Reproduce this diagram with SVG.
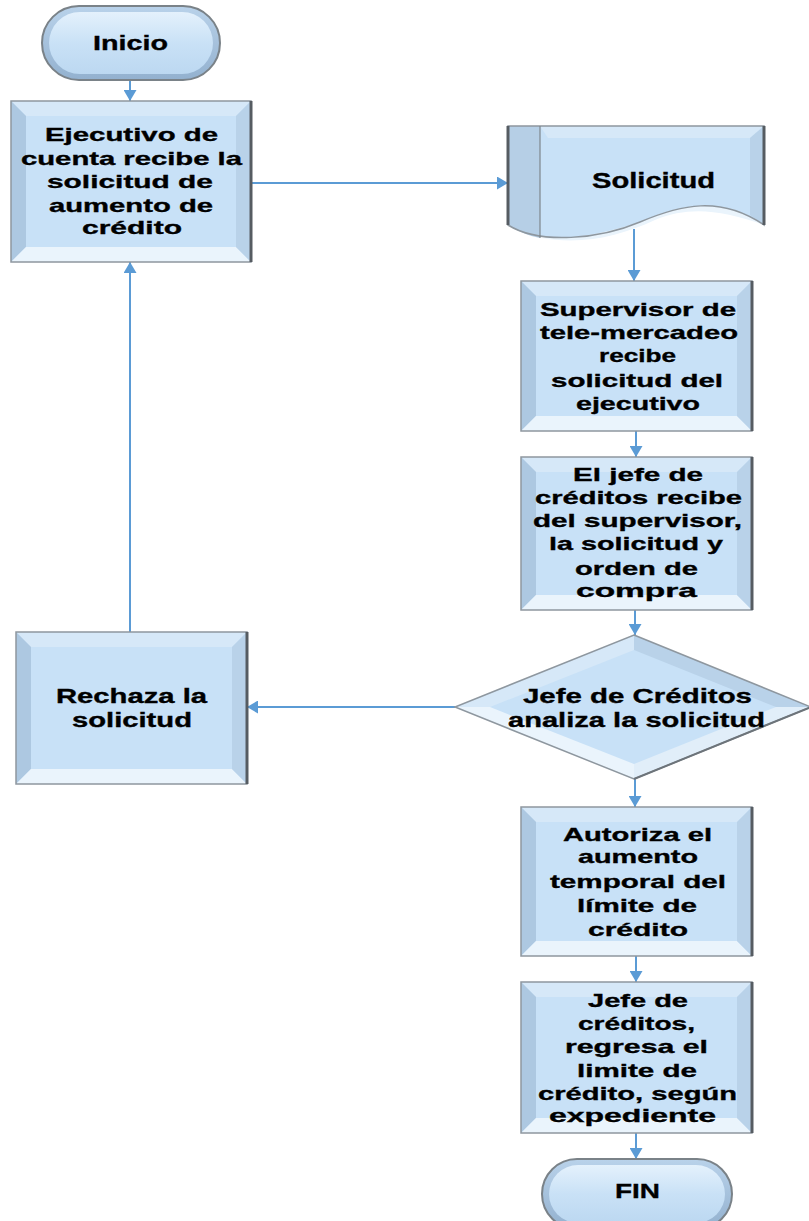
<svg xmlns="http://www.w3.org/2000/svg" width="809" height="1221" viewBox="0 0 809 1221">
  <style>
    .t { font-family: "Liberation Sans", Arial, sans-serif; font-weight: bold; font-size: 19px; fill: #000; stroke: #000; stroke-width: 0.35; }
    .big { font-size: 21px; }
    .face { fill: #c8e1f7; }
    .bt { fill: #d6e8f8; }
    .bl { fill: #adc8e1; }
    .bb { fill: #eaf4fc; }
    .br { fill: #b9d2e9; }
    .edge { fill: none; stroke: #8e979f; stroke-width: 1.5; }
    .dark { stroke: #565c62; stroke-width: 3; }
    .conn { fill: none; stroke: #5b9bd5; stroke-width: 2; marker-end: url(#arrow); }
  </style>
  <defs>
    <marker id="arrow" viewBox="0 0 11 13" markerWidth="11" markerHeight="13" refX="11" refY="6.5" orient="auto" markerUnits="userSpaceOnUse">
      <path d="M0,0 L11,6.5 L0,13 z" fill="#5b9bd5"/>
    </marker>
    <linearGradient id="pillRing" x1="0" y1="0" x2="0" y2="1">
      <stop offset="0" stop-color="#b9d2ea"/>
      <stop offset="1" stop-color="#93b1cf"/>
    </linearGradient>
    <linearGradient id="pillFace" x1="0" y1="0" x2="0" y2="1">
      <stop offset="0" stop-color="#e4f1fc"/>
      <stop offset="0.5" stop-color="#c9e1f6"/>
      <stop offset="1" stop-color="#bcd8f1"/>
    </linearGradient>
  </defs>

  <!-- connectors -->
  <g id="connectors">
    <line class="conn" x1="130" y1="80" x2="130" y2="101"/>
    <line class="conn" x1="252" y1="183" x2="508" y2="183"/>
    <line class="conn" x1="634" y1="229" x2="634" y2="281"/>
    <line class="conn" x1="636" y1="431" x2="636" y2="457"/>
    <line class="conn" x1="635" y1="610" x2="635" y2="635"/>
    <line class="conn" x1="455" y1="707" x2="247" y2="707"/>
    <line class="conn" x1="130" y1="632" x2="130" y2="262"/>
    <line class="conn" x1="635" y1="779" x2="635" y2="807"/>
    <line class="conn" x1="636" y1="956" x2="636" y2="982"/>
    <line class="conn" x1="636" y1="1133" x2="636" y2="1159"/>
  </g>

  <!-- start terminator -->
  <g id="inicio">
    <rect x="42" y="6" width="178" height="74" rx="37" fill="url(#pillRing)" stroke="#7a8288" stroke-width="2"/>
    <rect x="49" y="12" width="164" height="62" rx="31" fill="url(#pillFace)"/>
    <text class="t big" x="93" y="50" textLength="75" lengthAdjust="spacingAndGlyphs">Inicio</text>
  </g>

  <!-- process: ejecutivo -->
  <g id="ejecutivo">
    <rect class="face" x="11" y="101" width="240" height="161"/>
    <polygon class="bt" points="11,101 251,101 236,116 26,116"/>
    <polygon class="bl" points="11,101 26,116 26,247 11,262"/>
    <polygon class="bb" points="11,262 26,247 236,247 251,262"/>
    <polygon class="br" points="251,101 251,262 236,247 236,116"/>
    <rect class="edge" x="11" y="101" width="240" height="161"/>
    <line class="dark" x1="251" y1="101" x2="251" y2="262"/>
    <text class="t" x="45" y="141" textLength="173" lengthAdjust="spacingAndGlyphs">Ejecutivo de</text>
    <text class="t" x="21" y="165" textLength="221" lengthAdjust="spacingAndGlyphs">cuenta recibe la</text>
    <text class="t" x="47" y="188" textLength="166" lengthAdjust="spacingAndGlyphs">solicitud de</text>
    <text class="t" x="49" y="212" textLength="164" lengthAdjust="spacingAndGlyphs">aumento de</text>
    <text class="t" x="82" y="234" textLength="100" lengthAdjust="spacingAndGlyphs">crédito</text>
  </g>

  <!-- document: solicitud -->
  <g id="solicitud">
    <path d="M508,126 L764,126 L764,225 C720,195 680,205 640,222 S540,245 508,225 Z" fill="#c8e1f7"/>
    <path d="M508,126 L540,126 L540,238 C528,236 518,231 508,225 Z" fill="#b6cfe6"/>
    <path d="M540,126 L764,126 L750,138 L548,138 Z" fill="#d6e8f8"/>
    <path d="M764,126 L764,225 L750,215 L750,138 Z" fill="#b9d2e9"/>
    <path d="M540,238 C575,240 610,232 640,222 C680,205 720,195 764,225 C720,210 690,206 655,220 C620,236 585,245 540,238 Z" fill="#eaf4fc"/>
    <path d="M508,126 L764,126 L764,225 C720,195 680,205 640,222 S540,245 508,225 Z" fill="none" stroke="#8e979f" stroke-width="1.5"/>
    <line x1="540" y1="126" x2="540" y2="238" stroke="#7d858c" stroke-width="1.2"/>
    <line class="dark" x1="508" y1="126" x2="508" y2="225"/>
    <line class="dark" x1="764" y1="126" x2="764" y2="225"/>
    <text class="t" x="592" y="188" textLength="123" lengthAdjust="spacingAndGlyphs" style="font-size:22px">Solicitud</text>
  </g>

  <!-- process: supervisor -->
  <g id="supervisor">
    <rect class="face" x="521" y="281" width="231" height="150"/>
    <polygon class="bt" points="521,281 752,281 737,296 536,296"/>
    <polygon class="bl" points="521,281 536,296 536,416 521,431"/>
    <polygon class="bb" points="521,431 536,416 737,416 752,431"/>
    <polygon class="br" points="752,281 752,431 737,416 737,296"/>
    <rect class="edge" x="521" y="281" width="231" height="150"/>
    <line class="dark" x1="752" y1="281" x2="752" y2="431"/>
    <text class="t" x="540" y="316" textLength="196" lengthAdjust="spacingAndGlyphs">Supervisor de</text>
    <text class="t" x="540" y="339" textLength="198" lengthAdjust="spacingAndGlyphs">tele-mercadeo</text>
    <text class="t" x="599" y="362" textLength="77" lengthAdjust="spacingAndGlyphs">recibe</text>
    <text class="t" x="551" y="387" textLength="172" lengthAdjust="spacingAndGlyphs">solicitud del</text>
    <text class="t" x="576" y="410" textLength="124" lengthAdjust="spacingAndGlyphs">ejecutivo</text>
  </g>

  <!-- process: jefe recibe -->
  <g id="jefe-recibe">
    <rect class="face" x="521" y="457" width="231" height="153"/>
    <polygon class="bt" points="521,457 752,457 737,472 536,472"/>
    <polygon class="bl" points="521,457 536,472 536,595 521,610"/>
    <polygon class="bb" points="521,610 536,595 737,595 752,610"/>
    <polygon class="br" points="752,457 752,610 737,595 737,472"/>
    <rect class="edge" x="521" y="457" width="231" height="153"/>
    <line class="dark" x1="752" y1="457" x2="752" y2="610"/>
    <text class="t" x="573" y="481" textLength="130" lengthAdjust="spacingAndGlyphs">El jefe de</text>
    <text class="t" x="535" y="504" textLength="207" lengthAdjust="spacingAndGlyphs">créditos recibe</text>
    <text class="t" x="533" y="527" textLength="209" lengthAdjust="spacingAndGlyphs">del supervisor,</text>
    <text class="t" x="549" y="550" textLength="174" lengthAdjust="spacingAndGlyphs">la solicitud y</text>
    <text class="t" x="575" y="575" textLength="123" lengthAdjust="spacingAndGlyphs">orden de</text>
    <text class="t" x="576" y="597" textLength="121" lengthAdjust="spacingAndGlyphs">compra</text>
  </g>

  <!-- decision -->
  <g id="analiza">
    <polygon points="634,635 811,707 634,779 455,707" fill="#c8e1f7"/>
    <polygon points="634,635 811,707 776,707 634,650" fill="#b9d2e9"/>
    <polygon points="634,635 634,650 490,707 455,707" fill="#d6e8f8"/>
    <polygon points="455,707 490,707 634,764 634,779" fill="#eaf4fc"/>
    <polygon points="811,707 634,779 634,764 776,707" fill="#e1eef9"/>
    <polygon points="634,635 811,707 634,779 455,707" fill="none" stroke="#8e979f" stroke-width="1.5"/>
    <polyline points="811,707 634,779" fill="none" stroke="#6d747a" stroke-width="2"/>
    <text class="t big" x="523" y="703" textLength="229" lengthAdjust="spacingAndGlyphs">Jefe de Créditos</text>
    <text class="t big" x="508" y="727" textLength="257" lengthAdjust="spacingAndGlyphs">analiza la solicitud</text>
  </g>

  <!-- process: rechaza -->
  <g id="rechaza">
    <rect class="face" x="16" y="632" width="231" height="152"/>
    <polygon class="bt" points="16,632 247,632 232,647 31,647"/>
    <polygon class="bl" points="16,632 31,647 31,769 16,784"/>
    <polygon class="bb" points="16,784 31,769 232,769 247,784"/>
    <polygon class="br" points="247,632 247,784 232,769 232,647"/>
    <rect class="edge" x="16" y="632" width="231" height="152"/>
    <line class="dark" x1="247" y1="632" x2="247" y2="784"/>
    <text class="t" x="56" y="703" textLength="151" lengthAdjust="spacingAndGlyphs" style="font-size:20px">Rechaza la</text>
    <text class="t" x="72" y="727" textLength="120" lengthAdjust="spacingAndGlyphs" style="font-size:20px">solicitud</text>
  </g>

  <!-- process: autoriza -->
  <g id="autoriza">
    <rect class="face" x="521" y="807" width="231" height="149"/>
    <polygon class="bt" points="521,807 752,807 737,822 536,822"/>
    <polygon class="bl" points="521,807 536,822 536,941 521,956"/>
    <polygon class="bb" points="521,956 536,941 737,941 752,956"/>
    <polygon class="br" points="752,807 752,956 737,941 737,822"/>
    <rect class="edge" x="521" y="807" width="231" height="149"/>
    <line class="dark" x1="752" y1="807" x2="752" y2="956"/>
    <text class="t" x="563" y="841" textLength="149" lengthAdjust="spacingAndGlyphs">Autoriza el</text>
    <text class="t" x="578" y="863" textLength="120" lengthAdjust="spacingAndGlyphs">aumento</text>
    <text class="t" x="550" y="888" textLength="176" lengthAdjust="spacingAndGlyphs">temporal del</text>
    <text class="t" x="577" y="912" textLength="120" lengthAdjust="spacingAndGlyphs">límite de</text>
    <text class="t" x="588" y="936" textLength="100" lengthAdjust="spacingAndGlyphs">crédito</text>
  </g>

  <!-- process: jefe regresa -->
  <g id="jefe-regresa">
    <rect class="face" x="521" y="982" width="231" height="151"/>
    <polygon class="bt" points="521,982 752,982 737,997 536,997"/>
    <polygon class="bl" points="521,982 536,997 536,1118 521,1133"/>
    <polygon class="bb" points="521,1133 536,1118 737,1118 752,1133"/>
    <polygon class="br" points="752,982 752,1133 737,1118 737,997"/>
    <rect class="edge" x="521" y="982" width="231" height="151"/>
    <line class="dark" x1="752" y1="982" x2="752" y2="1133"/>
    <text class="t" x="588" y="1007" textLength="100" lengthAdjust="spacingAndGlyphs">Jefe de</text>
    <text class="t" x="578" y="1030" textLength="117" lengthAdjust="spacingAndGlyphs">créditos,</text>
    <text class="t" x="565" y="1053" textLength="143" lengthAdjust="spacingAndGlyphs">regresa el</text>
    <text class="t" x="577" y="1077" textLength="120" lengthAdjust="spacingAndGlyphs">limite de</text>
    <text class="t" x="538" y="1100" textLength="199" lengthAdjust="spacingAndGlyphs">crédito, según</text>
    <text class="t" x="549" y="1122" textLength="167" lengthAdjust="spacingAndGlyphs">expediente</text>
  </g>

  <!-- end terminator -->
  <g id="fin">
    <rect x="542" y="1159" width="190" height="70" rx="35" fill="url(#pillRing)" stroke="#7a8288" stroke-width="2"/>
    <rect x="549" y="1165" width="176" height="58" rx="29" fill="url(#pillFace)"/>
    <text class="t big" x="615" y="1198" textLength="45" lengthAdjust="spacingAndGlyphs">FIN</text>
  </g>
</svg>
